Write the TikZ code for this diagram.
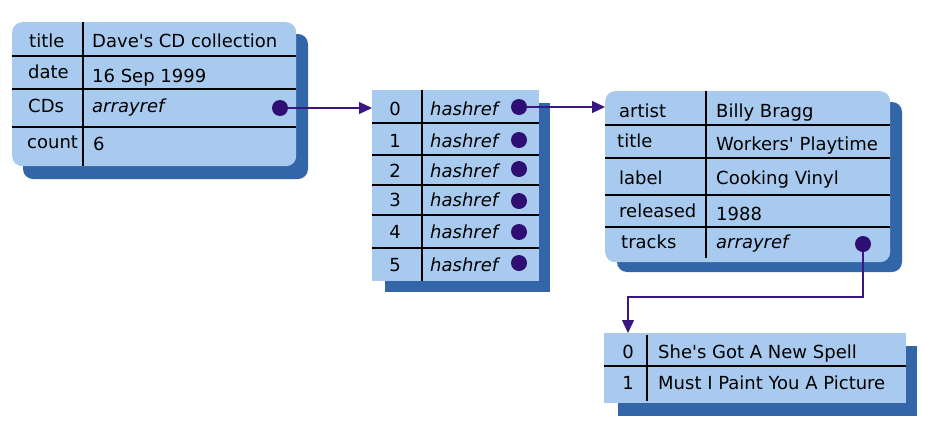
\documentclass[tikz,border=0pt]{standalone}
\usepackage{fontspec}
\setmainfont{DejaVu Sans}
\usetikzlibrary{arrows.meta}
\definecolor{lightc}{HTML}{A8CAEE}
\definecolor{shadc}{HTML}{3366A8}
\definecolor{dotc}{HTML}{2E0E73}
\definecolor{linec}{HTML}{3A1682}
\newcommand{\apos}{\textquotesingle}
\tikzset{
  panel/.style={fill=lightc, draw=none, inner sep=0pt, anchor=north west},
  shadowbox/.style={fill=shadc},
  rowline/.style={draw=black, line width=1.1pt},
  txt/.style={anchor=base west, inner sep=0pt, font=\fontsize{18}{21}\selectfont},
  idx/.style={anchor=base, inner sep=0pt, font=\fontsize{18}{21}\selectfont},
  refdot/.style={circle, fill=dotc, minimum size=16pt, inner sep=0pt},
  conn/.style={draw=linec, line width=1.2pt, -{Triangle[length=13pt,width=12pt]}},
}
\begin{document}
\begin{tikzpicture}[x=1pt,y=-1pt]
\useasboundingbox (0,0) rectangle (932,429);
% ---------- box 1 : hash ----------
\fill[shadowbox, rounded corners=10pt] (23,34) rectangle (308,179);
\node[panel, rounded corners=10pt, minimum width=284pt, minimum height=144pt] (hash) at (12,22) {};
\draw[rowline] (12,56) -- (296,56) (12,89) -- (296,89) (12,127) -- (296,127);
\draw[rowline] (83,22) -- (83,166);
\node[txt] (h1k1) at (29,47) {title};
\node[txt] (h1v1) at (92,47) {Dave\apos s CD collection};
\node[txt] (h1k2) at (28,78) {date};
\node[txt] (h1v2) at (92,82) {16 Sep 1999};
\node[txt] (h1k3) at (28,112) {CDs};
\node[txt] (h1v3) at (92,112) {\itshape arrayref};
\node[txt] (h1k4) at (27,148) {count};
\node[txt] (h1v4) at (93,150) {6};
\node[refdot] (cdsdot) at (280,108) {};
% ---------- box 2 : array ----------
\fill[shadowbox] (385,103) rectangle (550,292);
\node[panel, minimum width=167pt, minimum height=191pt] (arr) at (372,90) {};
\draw[rowline] (372,123) -- (539,123) (372,155) -- (539,155) (372,185) -- (539,185)
               (372,215) -- (539,215) (372,248) -- (539,248);
\draw[rowline] (422,90) -- (422,281);
\foreach \i/\b/\d in {0/115/107,1/147/140,2/177/169,3/206/201,4/238/232,5/271/263}{
  \node[idx] (ai\i) at (395,\b) {\i};
  \node[txt] (av\i) at (430,\b) {\itshape hashref};
  \node[refdot] (hd\i) at (519,\d) {};
}
% ---------- box 3 : hash ----------
\fill[shadowbox, rounded corners=10pt] (617,102) rectangle (902,272);
\node[panel, rounded corners=10pt, minimum width=285pt, minimum height=171pt] (cd) at (605,91) {};
\draw[rowline] (605,125) -- (890,125) (605,158) -- (890,158) (605,195) -- (890,195) (605,227) -- (890,227);
\draw[rowline] (706,91) -- (706,258);
\node[txt] (ck1) at (619,117) {artist};
\node[txt] (cv1) at (716,117) {Billy Bragg};
\node[txt] (ck2) at (617,147) {title};
\node[txt] (cv2) at (716,150) {Workers\apos\ Playtime};
\node[txt] (ck3) at (619,184) {label};
\node[txt] (cv3) at (716,184) {Cooking Vinyl};
\node[txt] (ck4) at (619,217) {released};
\node[txt] (cv4) at (716,220) {1988};
\node[txt] (ck5) at (621,248) {tracks};
\node[txt] (cv5) at (716,248) {\itshape arrayref};
\node[refdot] (tracksdot) at (863,244) {};
% ---------- box 4 : array ----------
\fill[shadowbox] (618,346) rectangle (917,416);
\node[panel, minimum width=302pt, minimum height=70pt] (trk) at (604,333) {};
\draw[rowline] (604,366) -- (906,366);
\draw[rowline] (647,335) -- (647,401);
\node[idx] (ti0) at (628,358) {0};
\node[txt] (tv0) at (658,358) {She\apos s Got A New Spell};
\node[idx] (ti1) at (628,389) {1};
\node[txt] (tv1) at (658,389) {Must I Paint You A Picture};
% ---------- connectors ----------
\coordinate (turn) at (628,297);
\draw[conn] (cdsdot.east) -- (cdsdot.east -| arr.west);
\draw[conn] (hd0.east) -- (hd0.east -| cd.west);
\draw[conn] (tracksdot.south) |- (turn) -- (turn |- trk.north);
\end{tikzpicture}
\end{document}
